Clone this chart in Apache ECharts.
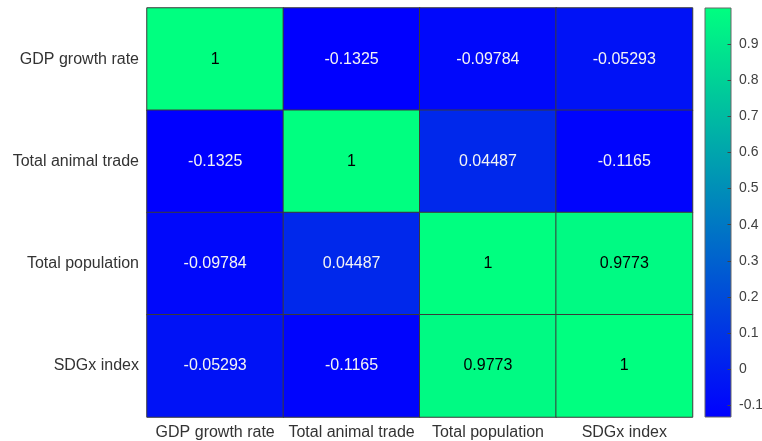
<!DOCTYPE html>
<html>
<head>
<meta charset="utf-8">
<script src="https://cdn.jsdelivr.net/npm/echarts@6/dist/echarts.min.js"></script>
<style>
html,body{margin:0;padding:0;background:#fff;}
#chart{width:762px;height:441px;}
</style>
</head>
<body>
<div id="chart"></div>
<script>
const variables = ['GDP growth rate', 'Total animal trade', 'Total population', 'SDGx index'];
const corrGDP = [1, -0.1325, -0.09784, -0.05293];
const corrAnimal = [-0.1325, 1, 0.04487, -0.1165];
const corrPopulation = [-0.09784, 0.04487, 1, 0.9773];
const corrSDGx = [-0.05293, -0.1165, 0.9773, 1];
const colorbarTicks = [-0.1, 0, 0.1, 0.2, 0.3, 0.4, 0.5, 0.6, 0.7, 0.8, 0.9];

const rows = [corrGDP, corrAnimal, corrPopulation, corrSDGx];
const allVals = rows.flat();
const cMin = Math.min(...allVals);
const cMax = Math.max(...allVals);
const mid = (cMin + cMax) / 2;

const heatData = [];
rows.forEach((row, r) => {
  row.forEach((v, c) => {
    heatData.push({ value: [c, r, v], label: { color: v > mid ? '#000000' : '#f4f4f4' } });
  });
});

const font = 'Liberation Sans, Arial, sans-serif';
const chart = echarts.init(document.getElementById('chart'), null, { renderer: 'canvas' });
chart.setOption({
  animation: false,
  backgroundColor: '#ffffff',
  grid: [
    { left: 147, top: 8, right: 69.5, bottom: 24, containLabel: false, outerBoundsMode: 'none' },
    { left: 705, top: 8, right: 31, bottom: 24, containLabel: false, outerBoundsMode: 'none' }
  ],
  xAxis: [
    {
      gridIndex: 0, type: 'category', data: variables, position: 'bottom',
      axisLine: { show: false }, axisTick: { show: false }, splitLine: { show: false },
      axisLabel: { interval: 0, fontFamily: font, fontSize: 16, color: '#333333', margin: 8 }
    },
    { gridIndex: 1, type: 'value', min: 0, max: 1, show: false }
  ],
  yAxis: [
    {
      gridIndex: 0, type: 'category', data: variables, inverse: true,
      axisLine: { show: false }, axisTick: { show: false }, splitLine: { show: false },
      axisLabel: { interval: 0, fontFamily: font, fontSize: 16, color: '#333333', margin: 8 }
    },
    {
      gridIndex: 1, type: 'value', min: cMin, max: cMax, position: 'right', z: 10,
      axisLine: { show: false, onZero: false }, splitLine: { show: false },
      axisTick: { show: true, inside: true, length: 3.5, customValues: colorbarTicks, lineStyle: { color: '#444444', width: 1 } },
      axisLabel: { customValues: colorbarTicks, fontFamily: font, fontSize: 14, color: '#404040', margin: 8 }
    }
  ],
  visualMap: {
    show: false, type: 'continuous', min: cMin, max: cMax, dimension: 2, seriesIndex: 0,
    inRange: { color: ['#0000ff', '#00ff80'] }
  },
  series: [
    {
      type: 'heatmap', xAxisIndex: 0, yAxisIndex: 0, data: heatData,
      itemStyle: { borderColor: '#3a3a3a', borderWidth: 1 },
      label: {
        show: true, fontFamily: font, fontSize: 16,
        formatter: p => String(p.value[2])
      },
      emphasis: { disabled: true }
    },
    {
      type: 'custom', xAxisIndex: 1, yAxisIndex: 1, silent: true, z: 1,
      data: [[0, cMin, 1, cMax]],
      renderItem: function (params, api) {
        const p0 = api.coord([api.value(0), api.value(3)]);
        const p1 = api.coord([api.value(2), api.value(1)]);
        return {
          type: 'rect',
          shape: { x: p0[0], y: p0[1], width: p1[0] - p0[0], height: p1[1] - p0[1] },
          style: {
            fill: { type: 'linear', x: 0, y: 0, x2: 0, y2: 1,
              colorStops: [{ offset: 0, color: '#00ff80' }, { offset: 1, color: '#0000ff' }] },
            stroke: '#666666', lineWidth: 1
          }
        };
      }
    }
  ]
});
</script>
</body>
</html>
